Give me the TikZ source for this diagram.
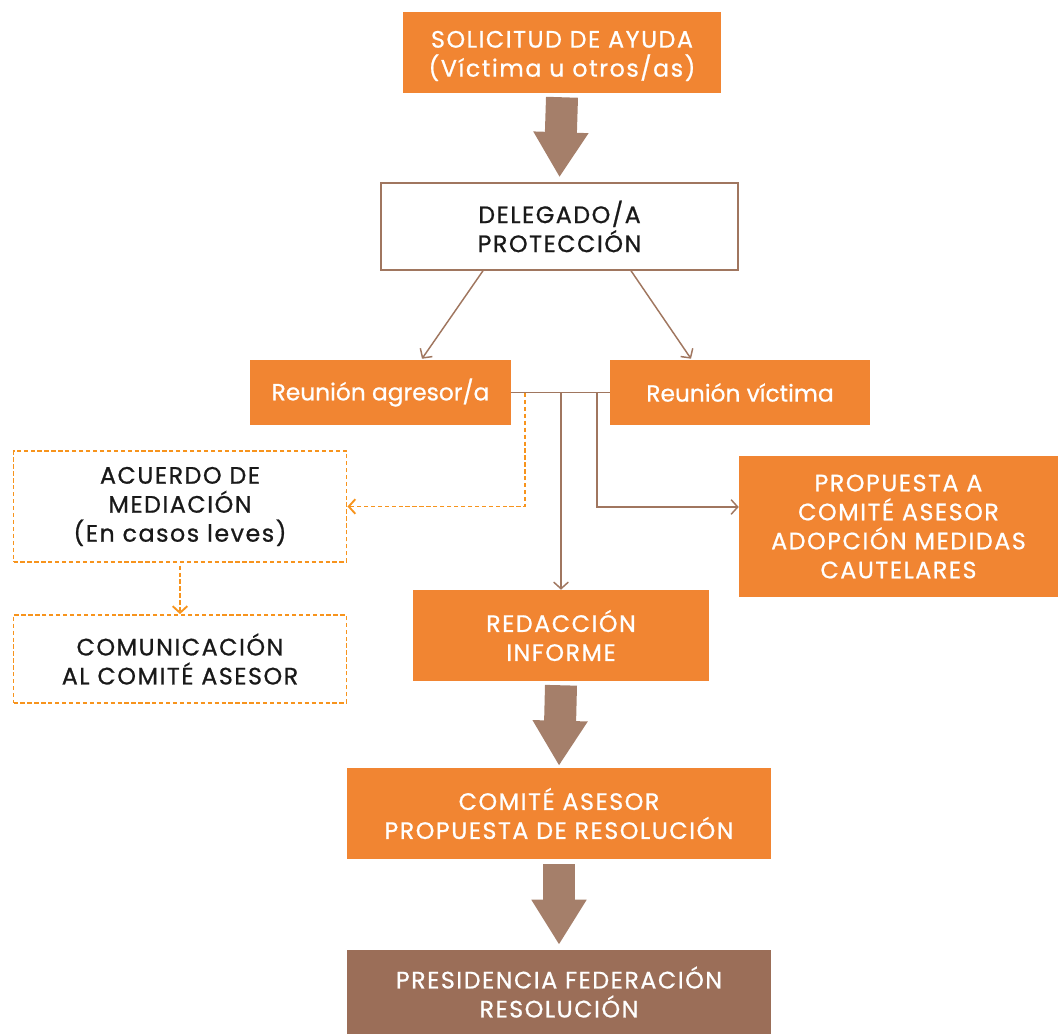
\documentclass[tikz,border=0pt]{standalone}
\usepackage{fontspec}
\setmainfont{Poppins}[FakeBold=0.8]
\newfontfamily\mayus{Poppins}[LetterSpace=6.5, FakeBold=0.8]
\usetikzlibrary{calc}
\usetikzlibrary{arrows.meta}
\usepackage{xcolor}
\definecolor{naranja}{HTML}{F18532}
\definecolor{marron}{HTML}{A57F6A}
\definecolor{marronosc}{HTML}{9B6E58}
\definecolor{borde}{HTML}{A0765F}
\definecolor{punteado}{HTML}{F7941D}
\tikzset{
  caja/.style={fill=naranja, text=white, align=center, inner sep=0pt, font=\mayus\fontsize{17.8}{21.75}\selectfont},
  cajablanca/.style={draw=borde, line width=1.1pt, fill=white, text=black!90, align=center, inner sep=0pt, font=\mayus\fontsize{17.8}{21.75}\selectfont},
  cajapunteada/.style={draw=punteado, line width=1.4pt, dash pattern=on 3.2pt off 2pt, text=black!90, align=center, inner sep=0pt, font=\mayus\fontsize{17.8}{21.75}\selectfont},
  minus/.style={font=\fontsize{17.5}{21.75}\selectfont},
  flechagorda/.style={draw=marron, line width=24pt, -{Triangle[width=39pt,length=33.75pt]}},
  flecha/.style={draw=borde, line width=1.1pt, -{Straight Barb[length=5pt,width=11pt]}},
  linea/.style={draw=borde, line width=1.1pt},
  flechapunteada/.style={draw=punteado, line width=1.4pt, dash pattern=on 3.2pt off 2pt, -{Straight Barb[length=5pt,width=11pt]}}
}
\begin{document}
\begin{tikzpicture}[x=0.75pt, y=-0.75pt]
\useasboundingbox (0,0) rectangle (1059,1034);

\node[caja, minimum width=238.5pt, minimum height=60.75pt] (sol) at (562,52.5) {\rule{0pt}{5pt}\\[-9pt]SOLICITUD DE AYUDA\\(Víctima u otros/as)};
\node[cajablanca, minimum width=267.75pt, minimum height=65.25pt] (del) at (559.5,226.5) {DELEGADO/A\\PROTECCIÓN};
\node[caja, minus, minimum width=195.75pt, minimum height=48.75pt] (agr) at (380.5,392.5) {Reunión agresor/a};
\node[caja, minus, minimum width=195pt, minimum height=48.75pt] (vic) at (740,392.5) {Reunión víctima};
\node[cajapunteada, minimum width=249.75pt, minimum height=83.25pt] (acu) at (180,506.5) {ACUERDO DE\\MEDIACIÓN\\(En casos leves)};
\node[cajapunteada, minimum width=249.75pt, minimum height=66pt] (com) at (180,659) {COMUNICACIÓN\\AL COMITÉ ASESOR};
\node[caja, minimum width=239.25pt, minimum height=105.75pt] (pro) at (898.5,526.5) {PROPUESTA A\\COMITÉ ASESOR\\ADOPCIÓN MEDIDAS\\CAUTELARES};
\node[caja, minimum width=222pt, minimum height=68.25pt] (red) at (561,635.5) {REDACCIÓN\\INFORME};
\node[caja, minimum width=318pt, minimum height=68.25pt] (cas) at (559,813.5) {COMITÉ ASESOR\\PROPUESTA DE RESOLUCIÓN};
\node[caja, fill=marronosc, minimum width=318pt, minimum height=63pt] (pre) at (559,992) {PRESIDENCIA FEDERACIÓN\\RESOLUCIÓN};

\coordinate (jr) at (561,393);
\coordinate (jv) at (597,393);
\coordinate (jd) at (525,393);

\draw[flechagorda] ([yshift=-3pt]sol.south) -- ([yshift=3.75pt]del.north);
\draw[flechagorda] ([yshift=-3pt]red.south) -- ([yshift=1.5pt]cas.north);
\draw[flechagorda] ([yshift=-3.75pt]cas.south) -- ([yshift=3.75pt]pre.north);

\draw[flecha] ($(del.south)+(-76.5,0)$) -- ($(agr.north)+(41.5,-1)$);
\draw[flecha] ($(del.south)+(71.5,0)$) -- ($(vic.north)+(-49,-1)$);
\draw[linea] (agr.east) -- (vic.west);
\draw[flecha] (jr) -- (red.north);
\draw[flecha] (jv) |- ($(pro.west)+(0,-19.5)$);
\draw[flechapunteada] (jd) |- (acu.east);
\draw[flechapunteada] ([yshift=-2pt]acu.south) -- (com.north);
\end{tikzpicture}
\end{document}
